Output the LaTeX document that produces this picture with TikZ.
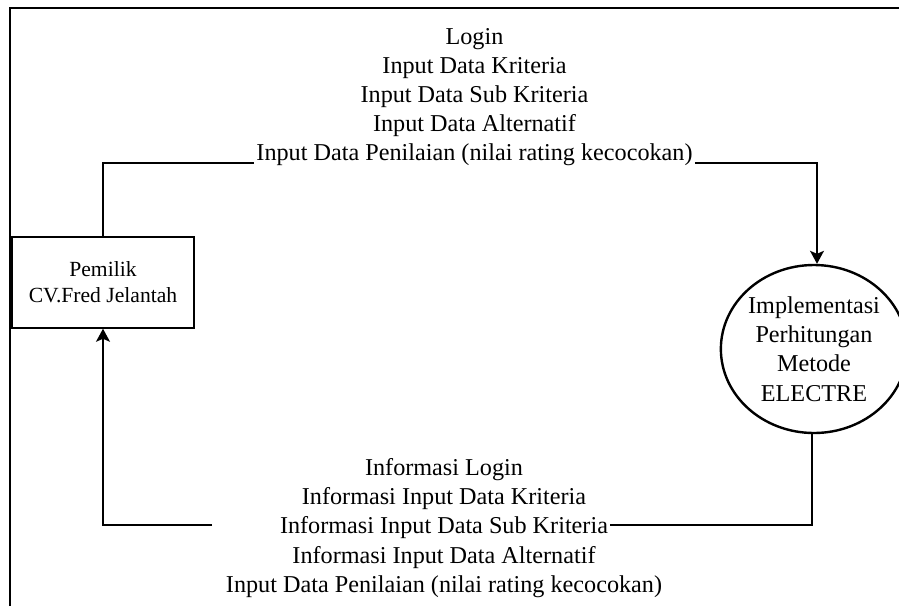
\documentclass[tikz,border=0pt]{standalone}
\usepackage{fontspec}
\setmainfont{Liberation Serif}
\usetikzlibrary{arrows.meta,shapes.geometric}

\begin{document}
\begin{tikzpicture}[x=0.5pt,y=-0.5pt,
  every node/.style={font=\fontsize{12.1}{14.7}\selectfont},
  flowline/.style={draw,line width=0.7pt},
  flowarrow/.style={draw,line width=0.7pt,-{Stealth[length=6.5pt,width=7pt,inset=1.5pt]}},
  entity/.style={draw,line width=0.75pt,minimum width=91pt,minimum height=45.5pt,align=center,inner sep=2pt,
    font=\fontsize{10.8}{13}\selectfont},
  process/.style={draw,ellipse,line width=1.2pt,minimum width=90pt,minimum height=84pt,inner sep=0pt,align=center},
  flowtext/.style={anchor=base,inner sep=1pt}]
\useasboundingbox (0,0) rectangle (899,606);
% frame
\path[draw,line width=0.7pt] (10,606) -- (10,8) -- (899,8);
% entity and process
\node[entity] (owner) at (103,282.5) {Pemilik\\CV.Fred Jelantah};
\node[process] (proc) at (814,349) {Implementasi\\Perhitungan\\Metode\\ELECTRE};
% data flow to process
\node[flowtext] (inLogin) at (474.5,44) {Login};
\node[flowtext] (inKriteria) at (474.5,73) {Input Data Kriteria};
\node[flowtext] (inSub) at (474.5,102) {Input Data Sub Kriteria};
\node[flowtext] (inAlternatif) at (474.5,131) {Input Data Alternatif};
\node[flowtext] (inPenilaian) at (474.5,160) {Input Data Penilaian (nilai rating kecocokan)};
\path[flowline] (owner.north) |- ([yshift=-1.5pt]inPenilaian.base west);
\path[flowarrow] ([yshift=-1.5pt]inPenilaian.base east) -| ([xshift=1.5pt]proc.north);
% data flow back to owner
\node[flowtext] (outLogin) at (444,475) {Informasi Login};
\node[flowtext] (outKriteria) at (444,504) {Informasi Input Data Kriteria};
\node[flowtext] (outSub) at (444,533) {Informasi Input Data Sub Kriteria};
\node[flowtext] (outAlternatif) at (444,563) {Informasi Input Data Alternatif};
\node[flowtext] (outPenilaian) at (444,592) {Input Data Penilaian (nilai rating kecocokan)};
\coordinate (outGap) at (212,525);
\path[flowline] ([xshift=-1pt]proc.south) |- ([yshift=4pt]outSub.base east);
\path[flowarrow] (outGap) -| (owner.south);
\end{tikzpicture}
\end{document}
